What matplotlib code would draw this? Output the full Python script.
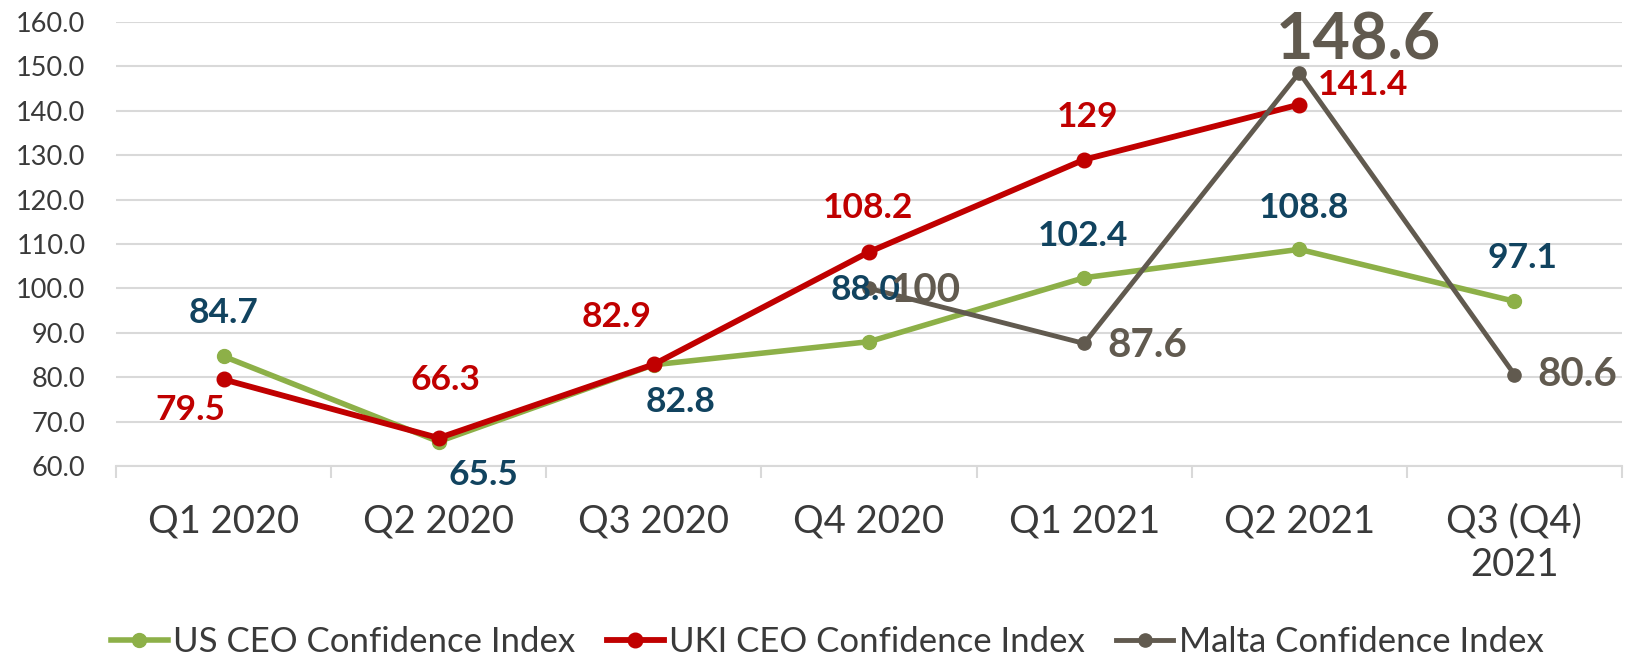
import numpy as np
import matplotlib.pyplot as plt
from matplotlib.ticker import FixedLocator, FormatStrFormatter

plt.rcParams['font.family'] = ['Lato', 'DejaVu Sans']

# data
quarters = ['Q1 2020', 'Q2 2020', 'Q3 2020', 'Q4 2020', 'Q1 2021', 'Q2 2021', 'Q3 (Q4)\n2021']
us_ceo = [84.7, 65.5, 82.8, 88.0, 102.4, 108.8, 97.1]
uki_ceo = [79.5, 66.3, 82.9, 108.2, 129, 141.4, np.nan]
malta = [np.nan, np.nan, np.nan, 100, 87.6, 148.6, 80.6]

us_text = ['84.7', '65.5', '82.8', '88.0', '102.4', '108.8', '97.1']
uki_text = ['79.5', '66.3', '82.9', '108.2', '129', '141.4', None]
malta_text = [None, None, None, '100', '87.6', '148.6', '80.6']

# label offsets in pixels (x right, y up)
us_off = [(0, 43), (45, -33), (27, -37), (-3, 52), (-1, 42), (5, 41), (8, 43)]
uki_off = [(-33, -31), (7, 58), (-37, 47), (-1, 44), (3, 43), (64, 20), None]
malta_off = [None, None, None, (56, -2), (63, -2), (59, 32), (63, 0)]

GREEN = '#8DB048'
RED = '#C00000'
MALTA = '#615A4F'
BLUE = '#11435F'
TEXT = '#3A3A3A'
GRID = '#D9D9D9'

fig = plt.figure(figsize=(16.32, 6.58), dpi=100)
ax = fig.add_axes([116 / 1632, 1 - 466 / 658, (1622 - 116) / 1632, (466 - 22) / 658])

x = np.arange(len(quarters))
ax.plot(x, us_ceo, color=GREEN, lw=4.0, marker='o', ms=10, zorder=3,
        label='US CEO Confidence Index')
ax.plot(x, uki_ceo, color=RED, lw=4.2, marker='o', ms=10.5, zorder=4,
        label='UKI CEO Confidence Index')
ax.plot(x, malta, color=MALTA, lw=3.5, marker='o', ms=9.5, zorder=5,
        label='Malta Confidence Index')

for i in range(len(x)):
    if us_text[i]:
        ax.annotate(us_text[i], (x[i], us_ceo[i]), xytext=us_off[i], textcoords='offset pixels',
                    ha='center', va='center', fontsize=25.5, fontweight='bold', color=BLUE, zorder=6)
    if uki_text[i]:
        ax.annotate(uki_text[i], (x[i], uki_ceo[i]), xytext=uki_off[i], textcoords='offset pixels',
                    ha='center', va='center', fontsize=25.5, fontweight='bold', color=RED, zorder=6)
    if malta_text[i]:
        size = 46.5 if malta[i] == max(v for v in malta if not np.isnan(v)) else 29
        ax.annotate(malta_text[i], (x[i], malta[i]), xytext=malta_off[i], textcoords='offset pixels',
                    ha='center', va='center', fontsize=size, fontweight='bold', color=MALTA, zorder=7)

ax.set_xlim(-0.5, len(quarters) - 0.5)
ax.set_ylim(60, 160)
ax.set_yticks(np.arange(60, 161, 10))
ax.yaxis.set_major_formatter(FormatStrFormatter('%.1f'))
ax.grid(axis='y', color=GRID, lw=1.5, zorder=0)

ax.set_xticks(x)
ax.set_xticklabels(quarters, linespacing=1.25)
ax.xaxis.set_minor_locator(FixedLocator(np.arange(-0.5, len(quarters), 1)))
ax.tick_params(axis='x', which='major', length=0, pad=27, labelsize=27.5, labelcolor=TEXT)
ax.tick_params(axis='x', which='minor', length=8.6, width=1.5, color=GRID)
ax.tick_params(axis='y', length=0, pad=22, labelsize=19.5, labelcolor=TEXT)

for side in ['left', 'right', 'top']:
    ax.spines[side].set_visible(False)
ax.spines['bottom'].set_color(GRID)
ax.spines['bottom'].set_linewidth(1.5)

leg = fig.legend(loc='center', bbox_to_anchor=(827 / 1632, 1 - 642 / 658), ncol=3, frameon=False,
                 fontsize=25, handlelength=1.65, handletextpad=0.15, columnspacing=0.9,
                 borderpad=0, borderaxespad=0)
for t in leg.get_texts():
    t.set_color(TEXT)

fig.savefig('out.png', dpi=100)
